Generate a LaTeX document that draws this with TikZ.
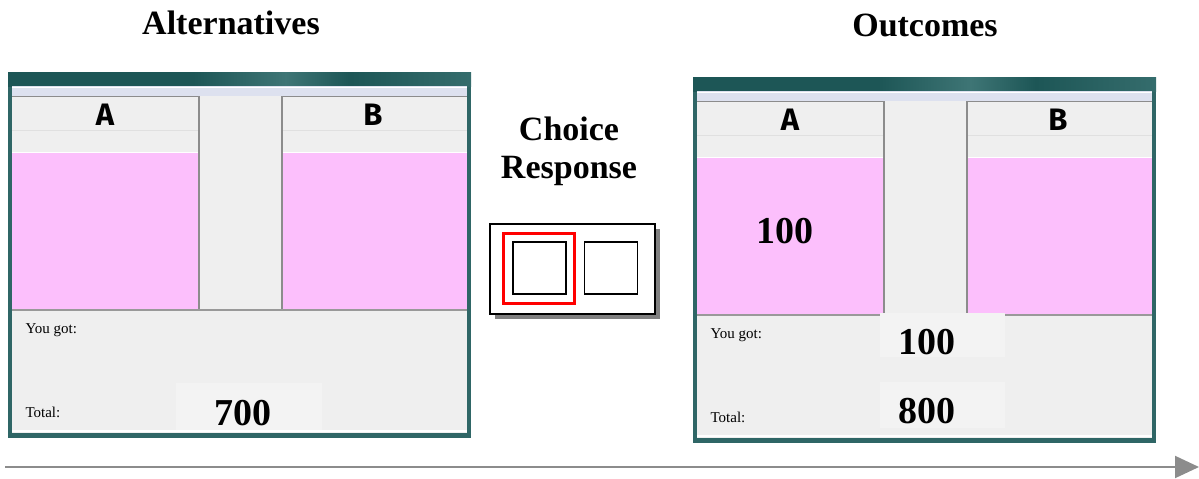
\documentclass[tikz,border=0pt]{standalone}
\usepackage{fontspec}
\setmainfont{Liberation Serif}
\newfontfamily\capsfont{Fira Sans}
\usetikzlibrary{arrows.meta}

\definecolor{pinkcell}{HTML}{FCBFFC}
\definecolor{panel}{HTML}{EFEFEF}
\definecolor{panelhi}{HTML}{F3F3F3}
\definecolor{framecol}{HTML}{2F6666}
\definecolor{tbdark}{HTML}{1D5656}
\definecolor{tblight}{HTML}{8FADAD}
\definecolor{tbmid}{HTML}{3E7575}
\definecolor{menubar}{HTML}{DDE1EF}
\definecolor{sepdark}{HTML}{8C8C8C}
\definecolor{arrowgray}{HTML}{8C8C8C}

\pgfdeclarehorizontalshading{titlebar}{100bp}{%
  color(0bp)=(tblight); color(6bp)=(tbmid); color(14bp)=(tbdark);
  color(45bp)=(tbdark); color(55bp)=(tbmid); color(62bp)=(tbdark);
  color(80bp)=(tbmid); color(90bp)=(tblight); color(100bp)=(tbmid)}

\tikzset{
  heading/.style={font=\bfseries\fontsize{34}{38}\selectfont, align=center},
  bignum/.style={font=\bfseries\fontsize{38}{40}\selectfont},
  smalllabel/.style={font=\fontsize{15}{17}\selectfont, anchor=west},
  colletter/.style={font=\capsfont\bfseries\fontsize{31}{33}\selectfont},
  cellframe/.style={draw=black, line width=1.6pt},
}

% One experiment window, drawn relative to the scope origin
\newcommand\appwindow[1]{%
  \fill[framecol] (0,0) rectangle (463,366);
  \shade[shading=titlebar] (0,0) rectangle (463,14);
  \fill[panel] (4,14) rectangle (459,361);
  \fill[menubar] (4,14) rectangle (459,24);
  \draw[white, line width=1pt] (4,15) -- (459,15);
  % column A
  \fill[panel] (4,24) rectangle (191,80);
  \draw[black!12, line width=0.8pt] (4,58) -- (191,58);
  \fill[pinkcell] (4,80) rectangle (191,237);
  \draw[white, line width=1pt] (4,80) -- (191,80);
  % middle column
  \fill[panel] (192,24) rectangle (273,237);
  \draw[sepdark, line width=1.4pt] (191,24) -- (191,237);
  % column B
  \fill[panel] (274,24) rectangle (459,80);
  \draw[black!12, line width=0.8pt] (274,58) -- (459,58);
  \fill[pinkcell] (274,80) rectangle (459,237);
  \draw[white, line width=1pt] (274,80) -- (459,80);
  \draw[sepdark, line width=1.4pt] (274,24) -- (274,237);
  \draw[sepdark, line width=1pt] (4,24) -- (191,24) (274,24) -- (459,24);
  % result panel
  \draw[black!40, line width=1.2pt] (4,238) -- (459,238);
  \draw[white, line width=1.4pt] (4,359) -- (459,359);
  \node[colletter] (#1A) at (97,43) {A};
  \node[colletter] (#1B) at (365,43) {B};
  \node[smalllabel] (#1got) at (14,258) {You got:};
  \node[smalllabel] (#1tot) at (14,340) {Total:};
}

\begin{document}
\begin{tikzpicture}[x=1pt,y=-1pt]
\useasboundingbox (0,0) rectangle (1199,479);

% headings
\node[heading] (alt) at (231,23) {Alternatives};
\node[heading] (out) at (925,25) {Outcomes};
\node[heading] (resp) at (569,151) {Choice\\Response};

% alternatives window
\begin{scope}[shift={(8,72)}]
  \appwindow{L}
  \fill[panelhi] (168,311) rectangle (314,358);
  \node[bignum] (Ltotal) at (235,341) {700};
\end{scope}

% outcomes window
\begin{scope}[shift={(693,77)}]
  \appwindow{R}
  \fill[panelhi] (187,236) rectangle (312,280);
  \fill[panelhi] (187,305) rectangle (312,351);
  \node[bignum] (Rpick) at (92,154) {100};
  \node[bignum] (Rgot) at (234,265) {100};
  \node[bignum] (Rtotal) at (234,334) {800};
\end{scope}

% response keys
\fill[black!50] (495,229) rectangle (660,319);
\node[draw=black, line width=1.4pt, fill=white, minimum width=165pt, minimum height=90pt,
      inner sep=0pt] (keys) at (572.5,269) {};
\node[draw=red, line width=3pt, minimum width=71pt, minimum height=70pt, inner sep=0pt]
      (pick) at (539,268.5) {};
\node[cellframe, minimum width=53pt, minimum height=52pt, inner sep=0pt] (keyA) at (539.5,268) {};
\node[cellframe, minimum width=53pt, minimum height=52pt, inner sep=0pt] (keyB) at (611,268) {};

% time axis
\coordinate (t0) at (5,467);
\coordinate (t1) at (1199,467);
\draw[arrowgray, line width=2pt, -{Triangle[length=24pt,width=22pt]}] (t0) -- (t1);
\end{tikzpicture}
\end{document}
